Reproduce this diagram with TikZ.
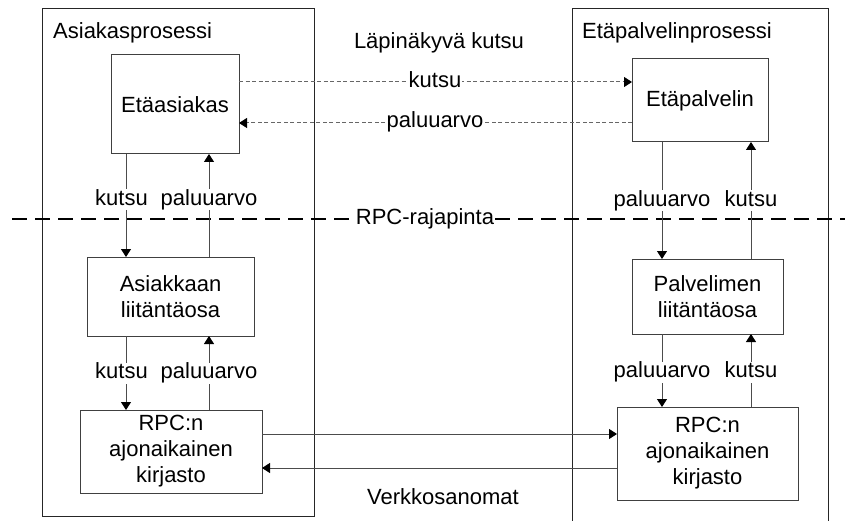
\documentclass[tikz,border=0pt]{standalone}
\usepackage{fontspec}
\setmainfont{Liberation Sans}
\usetikzlibrary{arrows.meta}
\begin{document}
\begin{tikzpicture}[x=1pt,y=-1pt,
  every node/.style={font=\fontsize{22}{26}\selectfont, text=black},
  boxnode/.style={draw=black!75, line width=1pt, inner sep=0pt, outer sep=0pt, align=center, fill=white},
  procbox/.style={draw=black!85, line width=1pt, inner sep=0pt, outer sep=0pt},
  tip/.style={-{Triangle[length=8pt,width=10pt,color=black]}},
  arr/.style={draw=black!70, line width=1pt, tip},
  dasharr/.style={draw=black!60, line width=1pt, dash pattern=on 4pt off 2.5pt, tip},
  lbl/.style={fill=white, inner sep=1pt, text height=15pt, text depth=4pt},
  rpcline/.style={draw=black, line width=1.4pt, dash pattern=on 15pt off 8pt}
]
\useasboundingbox (0,0) rectangle (845,521);
\clip (0,0) rectangle (845,521);
\fill[white] (0,0) rectangle (845,521);

% process boxes
\node[procbox, minimum width=272pt, minimum height=507pt] (lp) at (178,262.5) {};
\node[procbox, minimum width=256pt, minimum height=530pt] (rp) at (700,274) {};
\node[anchor=west, inner sep=0pt] (lpt) at (53,33) {Asiakasprosessi};
\node[anchor=west, inner sep=0pt] (rpt) at (582,33) {Etäpalvelinprosessi};

% RPC interface line
\coordinate (rl) at (12,219);
\coordinate (rr) at (845,219);
\draw[rpcline] (rl) -- (rr);
\node[lbl] (rpc) at (425,219) {RPC-rajapinta};

% component boxes
\node[boxnode, minimum width=128pt, minimum height=99pt] (ea) at (175,104.5) {Etäasiakas};
\node[boxnode, minimum width=136pt, minimum height=83pt] (ep) at (700,100.5) {Etäpalvelin};
\node[boxnode, minimum width=167pt, minimum height=79pt] (al) at (170.5,296.5) {Asiakkaan\\liitäntäosa};
\node[boxnode, minimum width=151pt, minimum height=75pt] (pl) at (707.5,296.5) {Palvelimen\\liitäntäosa};
\node[boxnode, minimum width=182pt, minimum height=83pt] (lr) at (171,451.5) {RPC:n\\ajonaikainen\\kirjasto};
\node[boxnode, minimum width=181pt, minimum height=93pt] (rr2) at (707.5,453.5) {RPC:n\\ajonaikainen\\kirjasto};

% x positions of vertical connectors
\coordinate (xa) at (126,0);
\coordinate (xb) at (209,0);
\coordinate (xc) at (662,0);
\coordinate (xd) at (751,0);
% y positions of horizontal connectors
\coordinate (y1) at (0,82);
\coordinate (y2) at (0,123);
\coordinate (y3) at (0,434);
\coordinate (y4) at (0,468);

% transparent call
\node (lk) at (439,43) {Läpinäkyvä kutsu};
\draw[dasharr] (ea.east |- y1) -- (ep.west |- y1);
\draw[dasharr] (ep.west |- y2) -- (ea.east |- y2);
\node[lbl] (k1) at (435,82) {kutsu};
\node[lbl] (p1) at (435,122) {paluuarvo};

% left vertical connectors
\draw[arr] (ea.south -| xa) -- (al.north -| xa);
\draw[arr] (al.north -| xb) -- (ea.south -| xb);
\node[lbl] (k2) at (121.5,200) {kutsu};
\node[lbl] (p2) at (209,200) {paluuarvo};
\draw[arr] (al.south -| xa) -- (lr.north -| xa);
\draw[arr] (lr.north -| xb) -- (al.south -| xb);
\node[lbl] (k3) at (121.5,373) {kutsu};
\node[lbl] (p3) at (209,373) {paluuarvo};

% right vertical connectors
\draw[arr] (ep.south -| xc) -- (pl.north -| xc);
\draw[arr] (pl.north -| xd) -- (ep.south -| xd);
\node[lbl] (p4) at (662,201) {paluuarvo};
\node[lbl] (k4) at (751,201) {kutsu};
\draw[arr] (pl.south -| xc) -- (rr2.north -| xc);
\draw[arr] (rr2.north -| xd) -- (pl.south -| xd);
\node[lbl] (p5) at (662,372) {paluuarvo};
\node[lbl] (k5) at (751,372) {kutsu};

% network messages
\draw[arr] (lr.east |- y3) -- (rr2.west |- y3);
\draw[arr] (rr2.west |- y4) -- (lr.east |- y4);
\node (vk) at (443,497) {Verkkosanomat};
\end{tikzpicture}
\end{document}
